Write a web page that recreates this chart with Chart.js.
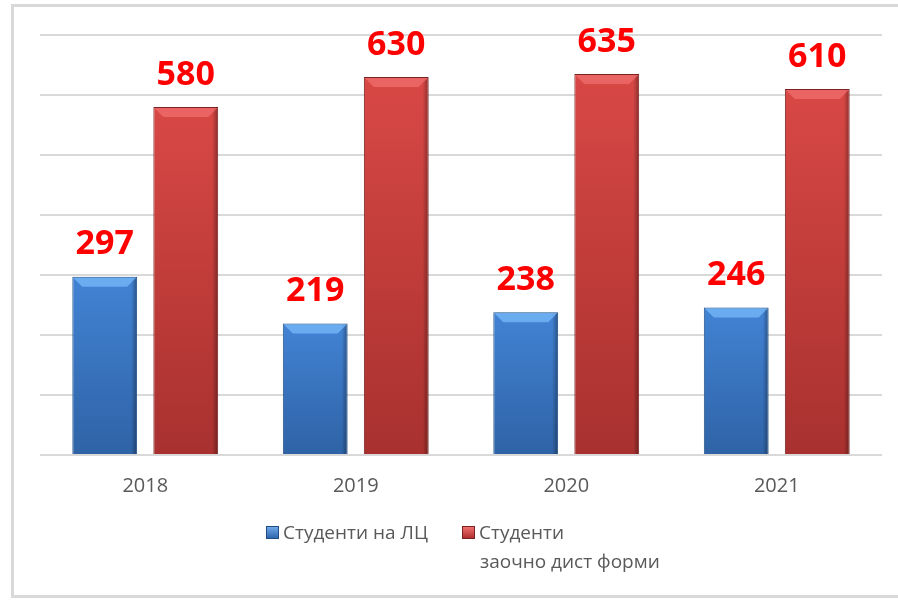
<!DOCTYPE html>
<html>
<head>
<meta charset="utf-8">
<script src="https://cdn.jsdelivr.net/npm/chart.js@4/dist/chart.umd.min.js"></script>
<style>
  html, body { margin: 0; padding: 0; background: #fff; }
  #wrap { position: relative; width: 898px; height: 600px; overflow: hidden; }
  #frame { position: absolute; left: 11px; top: 4px; right: -5px; bottom: 2px;
           border-top: 3px solid #d9d9d9; border-left: 3px solid #d9d9d9; border-bottom: 3px solid #d9d9d9; }
  canvas { position: absolute; left: 0; top: 0; }
  .legend { position: absolute; font-family: "Open Sans", sans-serif; font-size: 19px; color: #595959; line-height: 29px; }
  .sw { display: inline-block; width: 11px; height: 11px; margin-right: 4px; vertical-align: 0px; }
</style>
</head>
<body>
<div id="wrap">
  <div id="frame"></div>
  <canvas id="chart" width="898" height="600"></canvas>
  <div class="legend" style="left:266px; top:518px;">
    <span class="sw" style="background:linear-gradient(#6fa8e8,#2e66ad);border:1px solid #1f4e85;"></span>Студенти на ЛЦ
  </div>
  <div class="legend" style="left:462px; top:518px;">
    <span class="sw" style="background:linear-gradient(#f07070,#b03030);border:1px solid #7a2222;"></span>Студенти<br>
    <span style="padding-left:18px">заочно дист форми</span>
  </div>
</div>
<script>
// data
const years = ["2018", "2019", "2020", "2021"];
const lcStudents = [297, 219, 238, 246];
const distStudents = [580, 630, 635, 610];

// colours for the two series: [top, bottom, bevel, border]
const blueTones = ["#4283d4", "#2f63a6", "rgba(120,185,250,0.75)", "#1f4e85"];
const redTones = ["#d84845", "#a8312f", "rgba(240,110,110,0.75)", "#7a2222"];

// gives every bar a soft vertical shading and a bevelled top
const shadePlugin = {
  id: "shade",
  beforeDatasetsDraw(chart) {
    const ctx = chart.ctx;
    chart.data.datasets.forEach((ds, di) => {
      const tones = ds.tones;
      chart.getDatasetMeta(di).data.forEach(bar => {
        const g = ctx.createLinearGradient(0, bar.y, 0, bar.base);
        g.addColorStop(0, tones[0]);
        g.addColorStop(1, tones[1]);
        bar.options = Object.assign({}, bar.options, { backgroundColor: g });
      });
    });
  },
  afterDatasetsDraw(chart) {
    const ctx = chart.ctx;
    ctx.save();
    chart.data.datasets.forEach((ds, di) => {
      chart.getDatasetMeta(di).data.forEach((bar, i) => {
        const l = bar.x - bar.width / 2 + 1, r = bar.x + bar.width / 2 - 1;
        const t = bar.y + 1, b = 9;
        // dark right edge
        const eg = ctx.createLinearGradient(r - 5, 0, r, 0);
        eg.addColorStop(0, "rgba(0,0,0,0)");
        eg.addColorStop(1, "rgba(0,0,0,0.3)");
        ctx.fillStyle = eg;
        ctx.fillRect(r - 5, t, 5, bar.base - t);
        // top bevel
        ctx.fillStyle = ds.tones[2];
        ctx.beginPath();
        ctx.moveTo(l, t); ctx.lineTo(r, t); ctx.lineTo(r - b, t + b); ctx.lineTo(l + b, t + b);
        ctx.closePath();
        ctx.fill();
        // value label
        ctx.fillStyle = "#ff0000";
        ctx.font = "bold 34px 'Open Sans', sans-serif";
        ctx.textAlign = "center";
        ctx.textBaseline = "middle";
        ctx.fillText(String(ds.data[i]), bar.x, bar.y - 32);
      });
    });
    ctx.restore();
  }
};

new Chart(document.getElementById("chart"), {
  type: "bar",
  data: {
    labels: years,
    datasets: [
      { label: "Студенти на ЛЦ", data: lcStudents, tones: blueTones,
        backgroundColor: blueTones[0], borderColor: blueTones[3], borderWidth: 1 },
      { label: "Студенти заочно дист форми", data: distStudents, tones: redTones,
        backgroundColor: redTones[0], borderColor: redTones[3], borderWidth: 1 }
    ]
  },
  options: {
    responsive: false,
    animation: false,
    devicePixelRatio: 1,
    layout: { padding: { left: 40, right: 16, top: 35, bottom: 0 } },
    datasets: { bar: { categoryPercentage: 0.77, barPercentage: 0.8 } },
    plugins: { legend: { display: false }, tooltip: { enabled: false } },
    scales: {
      x: {
        grid: { display: false },
        border: { display: false },
        ticks: { color: "#595959", font: { family: "Open Sans", size: 20 }, padding: 11 },
        afterFit(s) { s.height = 145; }
      },
      y: {
        min: 0, max: 700,
        ticks: { stepSize: 100, display: false },
        grid: { color: "#d9d9d9", lineWidth: 2, drawTicks: false },
        border: { display: false },
        afterFit(s) { s.width = 0; }
      }
    }
  },
  plugins: [shadePlugin]
});
</script>
</body>
</html>
